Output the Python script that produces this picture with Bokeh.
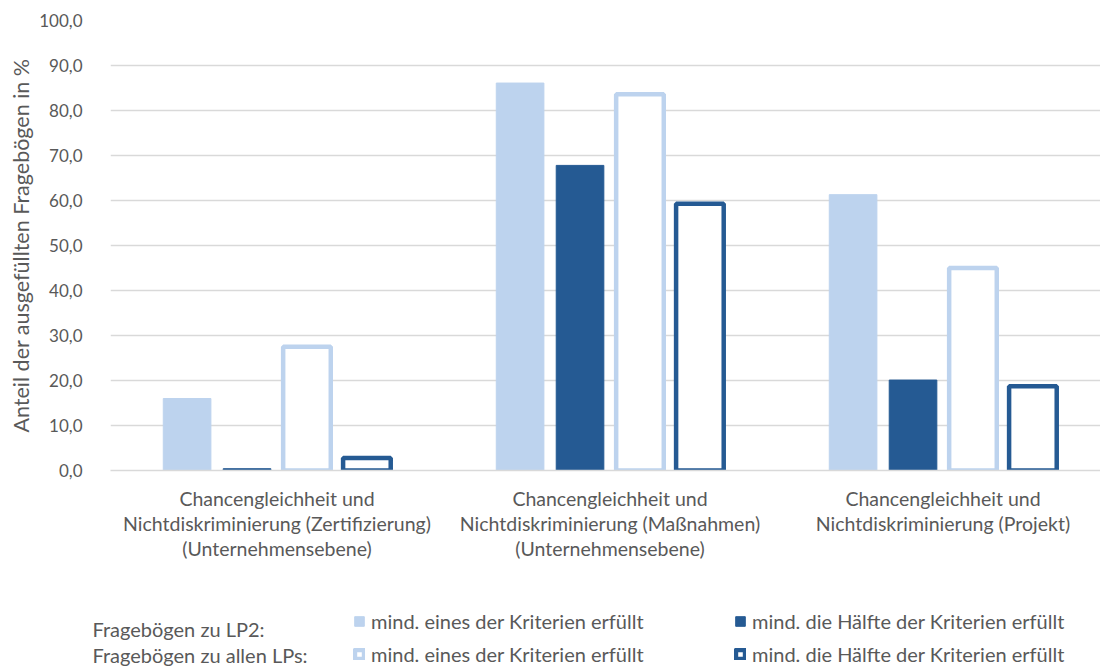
from bokeh.plotting import figure
from bokeh.models import Range1d, FixedTicker, Legend, LegendItem, Label, ColumnDataSource
from bokeh.transform import dodge
from bokeh.embed import file_html
from bokeh.resources import INLINE

# ---- data ----
categories = [
    "Chancengleichheit und\nNichtdiskriminierung (Zertifizierung)\n(Unternehmensebene)",
    "Chancengleichheit und\nNichtdiskriminierung (Maßnahmen)\n(Unternehmensebene)",
    "Chancengleichheit und\nNichtdiskriminierung (Projekt)",
]
lp2_eines = [16.0, 86.1, 61.3]
lp2_haelfte = [0.4, 67.8, 20.1]
alle_eines = [27.5, 83.6, 45.0]
alle_haelfte = [2.8, 59.3, 18.7]

y_ticks = [0, 10, 20, 30, 40, 50, 60, 70, 80, 90, 100]
y_tick_labels = ["0,0", "10,0", "20,0", "30,0", "40,0", "50,0", "60,0", "70,0", "80,0", "90,0", "100,0"]

legend_labels = ["mind. eines der Kriterien erfüllt", "mind. die Hälfte der Kriterien erfüllt"]
row_labels = ["Fragebögen zu LP2:", "Fragebögen zu allen LPs:"]
y_title = "Anteil der ausgefüllten Fragebögen in %"

LIGHT = "#BDD3EE"
DARK = "#255A93"
TXT = "#595959"
FONT = "Lato"

idx = list(range(len(categories)))
src = ColumnDataSource(dict(x=idx, a=lp2_eines, b=lp2_haelfte, c=alle_eines, d=alle_haelfte))

W = 1100
H1, H2 = 568, 98
LEFT, TOP, FRAME_H = 110, 20, 450
frame_w = W - LEFT
cat_px = 333.0

p = figure(width=W, height=H1, output_backend="svg", toolbar_location=None,
           x_range=Range1d(-0.5, -0.5 + frame_w / cat_px), y_range=Range1d(0, 100),
           min_border_left=LEFT, min_border_right=0, min_border_top=TOP,
           min_border_bottom=H1 - TOP - FRAME_H)
p.outline_line_color = None
p.background_fill_color = "white"
p.border_fill_color = "white"

bw = 0.143
bar_styles = [
    dict(fill_color=LIGHT, line_color=LIGHT, line_width=1),
    dict(fill_color=DARK, line_color=DARK, line_width=1),
    dict(fill_color="white", line_color=LIGHT, line_width=4.5),
    dict(fill_color="white", line_color=DARK, line_width=4.5),
]
offsets = [-0.27, -0.09, 0.09, 0.27]
cols = ["a", "b", "c", "d"]
for off, col, st in zip(offsets, cols, bar_styles):
    p.vbar(x=dodge("x", off, range=p.x_range), top=col, width=bw, source=src, **st)

# axes
p.xaxis.ticker = FixedTicker(ticks=idx)
p.xaxis.major_label_overrides = {i: c for i, c in zip(idx, categories)}
p.xaxis.major_label_text_font = FONT
p.xaxis.major_label_text_font_size = "19.5px"
p.xaxis.major_label_text_line_height = 1.1
p.xaxis.major_label_text_color = TXT
p.xaxis.major_label_standoff = 10
p.xaxis.major_tick_line_color = None
p.xaxis.minor_tick_line_color = None
p.xaxis.axis_line_color = "#D9D9D9"
p.xaxis.axis_line_width = 1.5
p.xgrid.grid_line_color = None

p.yaxis.ticker = FixedTicker(ticks=y_ticks)
p.yaxis.major_label_overrides = {t: l for t, l in zip(y_ticks, y_tick_labels)}
p.yaxis.major_label_text_font = FONT
p.yaxis.major_label_text_font_size = "17px"
p.yaxis.major_label_text_color = TXT
p.yaxis.major_label_standoff = 22
p.yaxis.major_tick_line_color = None
p.yaxis.minor_tick_line_color = None
p.yaxis.axis_line_color = None
p.yaxis.axis_label = y_title
p.yaxis.axis_label_text_font = FONT
p.yaxis.axis_label_text_font_size = "21.5px"
p.yaxis.axis_label_text_font_style = "normal"
p.yaxis.axis_label_text_color = TXT
p.yaxis.axis_label_standoff = 2
p.ygrid.grid_line_color = "#D9D9D9"
p.ygrid.grid_line_width = 1.5

# ---- legend strip (separate root, frame = full canvas) ----
p2 = figure(width=W, height=H2, output_backend="svg", toolbar_location=None,
            x_range=Range1d(0, 1), y_range=Range1d(0, 1),
            x_axis_type=None, y_axis_type=None, min_border=0)
p2.outline_line_color = None
p2.grid.visible = False

leg_styles = [
    dict(fill_color=LIGHT, line_color=LIGHT, line_width=1),
    dict(fill_color=DARK, line_color=DARK, line_width=1),
    dict(fill_color="white", line_color=LIGHT, line_width=5),
    dict(fill_color="white", line_color=DARK, line_width=5),
]
proxies = [p2.vbar(x="x", top=col, width=bw, source=src, visible=False, **st)
           for col, st in zip(cols, leg_styles)]

def make_legend(items, x):
    return Legend(items=items, location=(x, 0), orientation="vertical",
                  glyph_width=12, glyph_height=12, label_height=20, spacing=9,
                  label_standoff=6, padding=0, margin=0, click_policy="none",
                  border_line_color=None, background_fill_alpha=0,
                  label_text_font=FONT, label_text_font_size="20px",
                  label_text_color=TXT)

lg1 = make_legend([LegendItem(label=legend_labels[0], renderers=[proxies[0]]),
                   LegendItem(label=legend_labels[0], renderers=[proxies[2]])], 353)
lg2 = make_legend([LegendItem(label=legend_labels[1], renderers=[proxies[1]]),
                   LegendItem(label=legend_labels[1], renderers=[proxies[3]])], 734)
p2.add_layout(lg1, "center")
p2.add_layout(lg2, "center")

for lab, yy in zip(row_labels, [38, 12]):
    p2.add_layout(Label(x=92, y=yy, x_units="screen", y_units="screen", text=lab,
                        text_font=FONT, text_font_size="20px", text_color=TXT,
                        text_baseline="middle", text_align="left"))

open("out.html", "w").write(file_html((p, p2), INLINE))
